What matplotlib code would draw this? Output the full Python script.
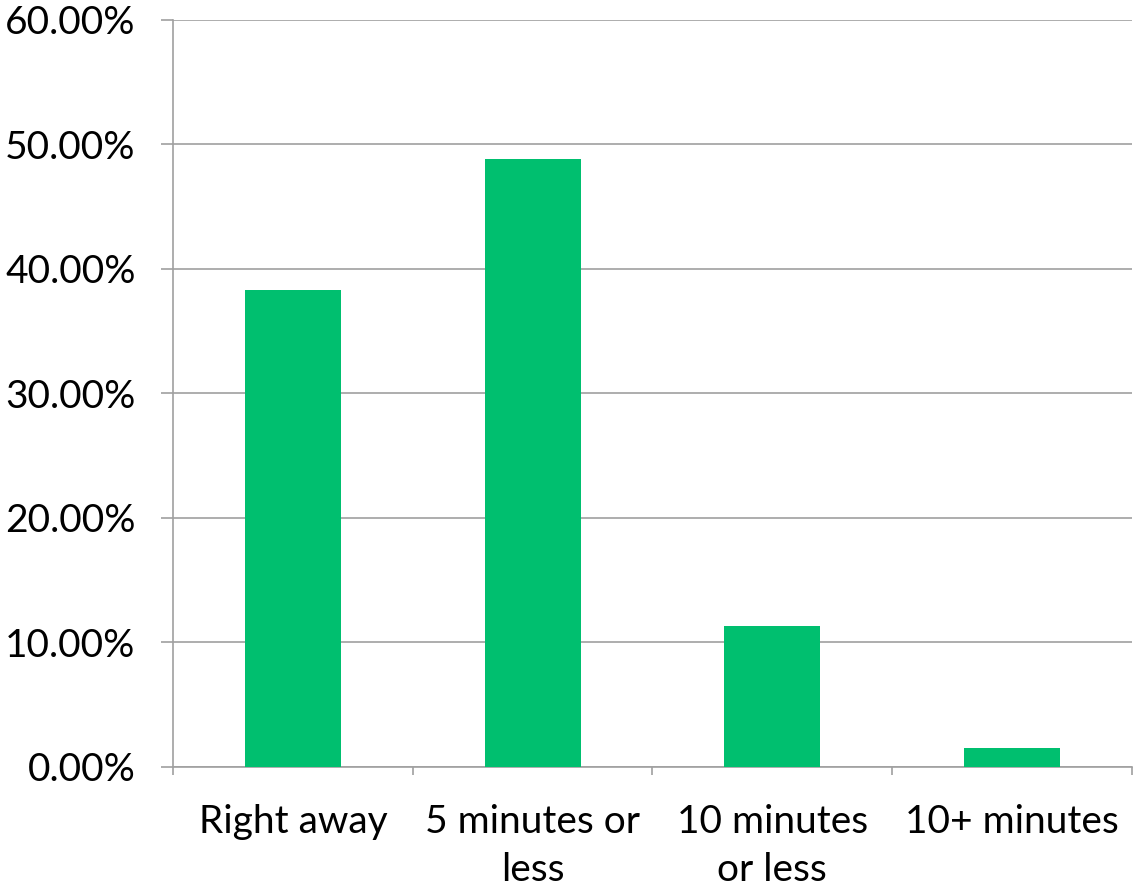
import matplotlib
matplotlib.use("Agg")
import matplotlib.pyplot as plt
from matplotlib.ticker import FuncFormatter, MultipleLocator

categories = ["Right away", "5 minutes or\nless", "10 minutes\nor less", "10+ minutes"]
values = [38.3, 48.85, 11.3, 1.55]

plt.rcParams['font.family'] = ['Lato', 'DejaVu Sans']

fig = plt.figure(figsize=(11.33, 8.91), dpi=100)
ax = fig.add_axes([0.1527, 0.1392, 0.8463, 0.8384])

x = list(range(len(categories)))
ax.bar(x, values, width=0.4, color='#00BF6F', zorder=3)

ax.set_xlim(-0.5, len(categories) - 0.5)
ax.set_ylim(0, 60)
ax.yaxis.set_major_locator(MultipleLocator(10))
ax.yaxis.set_major_formatter(FuncFormatter(lambda v, p: f"{v:.2f}%"))
ax.grid(axis='y', color='#A0A0A0', linewidth=1.2, zorder=0)

ax.set_xticks([i + 0.5 for i in range(-1, len(categories))])
ax.set_xticklabels([])
ax.set_xticks(x, minor=True)
ax.set_xticklabels(categories, minor=True, fontsize=28, linespacing=1.4)
ax.tick_params(axis='x', which='minor', length=0, pad=27)
ax.tick_params(axis='x', which='major', length=6, width=1.2, color='#A0A0A0')
ax.tick_params(axis='y', length=9, width=1.2, color='#A0A0A0', labelsize=28, pad=18)

for s in ['top', 'right']:
    ax.spines[s].set_visible(False)
for s in ['left', 'bottom']:
    ax.spines[s].set_color('#A0A0A0')
    ax.spines[s].set_linewidth(1.2)

fig.savefig("out.png", dpi=100)
